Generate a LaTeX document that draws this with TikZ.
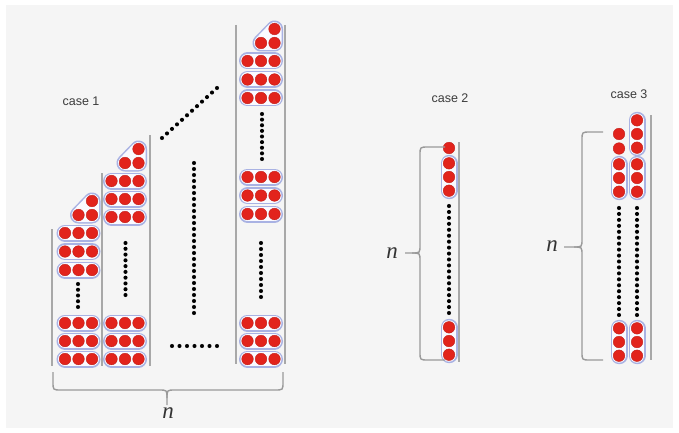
\documentclass[tikz,border=0pt]{standalone}
\usepackage{fontspec}
\setsansfont{Liberation Sans}
\newfontfamily\nfont{Liberation Serif}
\definecolor{bgpanel}{HTML}{F5F5F5}
\definecolor{pillblue}{HTML}{A9B2E3}
\definecolor{pillbg}{HTML}{FAFAFF}
\definecolor{dotred}{HTML}{E2231C}
\definecolor{rulegray}{HTML}{A8A8A8}
\definecolor{bracegray}{HTML}{9A9A9A}
\definecolor{labelgray}{HTML}{3C3C3C}
\tikzset{
  pillout/.style={line width=17pt, line cap=round, line join=round, draw=pillblue},
  pillin/.style={line width=14pt, line cap=round, line join=round, draw=pillbg},
  reddot/.style={fill=dotred, draw=dotred!85!black, line width=0.4pt},
  bdot/.style={fill=black},
  rule/.style={draw=rulegray, line width=1.3pt},
  bracepath/.style={draw=bracegray, line width=1.4pt},
  caselabel/.style={font=\sffamily\fontsize{12.5}{14}\selectfont, text=labelgray, inner sep=0pt},
  nlabel/.style={font=\nfont\itshape\fontsize{23}{25}\selectfont, text=black!80, inner sep=0pt}
}
\newcommand\rd[2]{\fill[reddot] (#1,#2) circle[radius=5.8];}
\newcommand\hpill[2]{%
  \draw[pillout] (#1-13.5,#2) -- (#1+13.5,#2);
  \draw[pillin] (#1-13.5,#2) -- (#1+13.5,#2);
  \rd{#1-13.5}{#2}\rd{#1}{#2}\rd{#1+13.5}{#2}}
\newcommand\vpill[2]{%
  \draw[pillout] (#1,#2-13.7) -- (#1,#2+13.7);
  \draw[pillin] (#1,#2-13.7) -- (#1,#2+13.7);
  \rd{#1}{#2-13.7}\rd{#1}{#2}\rd{#1}{#2+13.7}}
\newcommand\tripill[2]{%
  \draw[pillout, fill=pillblue] (#1-13.5,#2) -- (#1,#2) -- (#1,#2-14) -- cycle;
  \draw[pillin, fill=pillbg] (#1-13.5,#2) -- (#1,#2) -- (#1,#2-14) -- cycle;
  \rd{#1-13.5}{#2}\rd{#1}{#2}\rd{#1}{#2-14}}
\newcommand\dotrow[5]{\foreach \i in {0,...,#5}{\fill[bdot] ({#1+(#3-#1)*\i/#5},{#2+(#4-#2)*\i/#5}) circle[radius=2.05];}}
\begin{document}
\begin{tikzpicture}[x=1pt,y=-1pt]
\useasboundingbox (0,0) rectangle (679,433);
\fill[bgpanel] (6,5) rectangle (673,428);

% ---------- case 1 ----------
% vertical rules
\draw[rule] (52,229) -- (52,366);
\draw[rule] (102,173) -- (102,366);
\draw[rule] (150,135) -- (150,366);
\draw[rule] (236,25) -- (236,364);
\draw[rule] (285,25) -- (285,364);

% column 1
\tripill{92}{215}
\hpill{78.5}{233}\hpill{78.5}{251.5}\hpill{78.5}{270}
\dotrow{78}{284}{78}{307}{4}
\hpill{78.5}{323}\hpill{78.5}{341}\hpill{78.5}{359}

% column 2
\tripill{138.5}{163}
\hpill{125}{181}\hpill{125}{199}\hpill{125}{217}
\dotrow{125.5}{243}{125.5}{295}{9}
\hpill{125}{323}\hpill{125}{341}\hpill{125}{359}

% middle dots
\dotrow{162}{138}{217}{88}{11}
\dotrow{194}{163}{194}{313}{25}
\dotrow{172}{346}{217}{346}{6}

% column 4
\tripill{274.5}{43}
\hpill{261}{61}\hpill{261}{79.5}\hpill{261}{98}
\dotrow{262}{114}{262}{159}{8}
\hpill{261}{177}\hpill{261}{195.5}\hpill{261}{214}
\dotrow{261}{243}{261}{297}{9}
\hpill{261}{323}\hpill{261}{341}\hpill{261}{359}

% brace case 1
\draw[bracepath] (53,372) -- (53,382) .. controls (53,390) .. (61,390) -- (159,390) .. controls (167,390) .. (167,398) -- (167,405);
\draw[bracepath] (283,372) -- (283,382) .. controls (283,390) .. (275,390) -- (175,390) .. controls (167,390) .. (167,398);
\node[nlabel] (n1) at (168,413) {n};
\node[caselabel] (c1) at (81,101) {case 1};

% ---------- case 2 ----------
\draw[rule] (459,142) -- (459,362);
\rd{449}{148}
\vpill{449}{177}
\dotrow{449}{206}{449}{313}{18}
\vpill{449}{341}
\draw[bracepath] (445,147) -- (428,147) .. controls (420,147) .. (420,155) -- (420,245) .. controls (420,253) .. (412,253) -- (405,253);
\draw[bracepath] (445,360) -- (428,360) .. controls (420,360) .. (420,352) -- (420,261) .. controls (420,253) .. (412,253);
\node[nlabel] (n2) at (392,253) {n};
\node[caselabel] (c2) at (450,98) {case 2};

% ---------- case 3 ----------
\draw[rule] (651,115) -- (651,360);
\vpill{637}{134}
\rd{619}{134}\rd{619}{148.5}
\vpill{619}{178}\vpill{637}{178}
\dotrow{619}{208}{619}{315}{18}
\dotrow{637}{208}{637}{315}{18}
\vpill{619}{342}\vpill{637}{342}
\draw[bracepath] (603,132) -- (590,132) .. controls (582,132) .. (582,140) -- (582,239) .. controls (582,247) .. (574,247) -- (564,247);
\draw[bracepath] (603,360) -- (590,360) .. controls (582,360) .. (582,352) -- (582,255) .. controls (582,247) .. (574,247);
\node[nlabel] (n3) at (552,246) {n};
\node[caselabel] (c3) at (629,94) {case 3};
\end{tikzpicture}
\end{document}
